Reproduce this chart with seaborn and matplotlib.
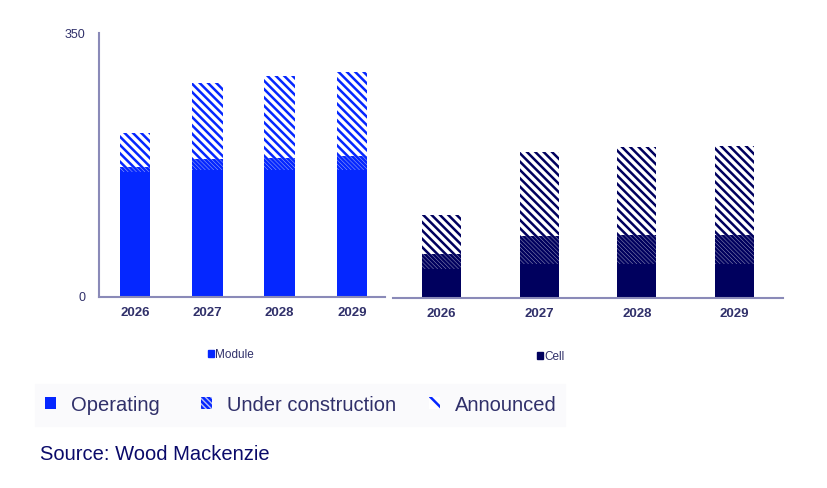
import pandas as pd
import matplotlib.pyplot as plt
import seaborn as sns
from matplotlib.patches import Patch, Rectangle

# valeurs (GW)
years = ["2026", "2027", "2028", "2029"]
module_operating = [166, 169, 169, 169]
module_construction = [6, 14, 16, 18]
module_announced = [45, 101, 108, 112]
cell_operating = [39, 45, 45, 45]
cell_construction = [19, 37, 38, 38]
cell_announced = [52, 111, 117, 119]
legend_labels = ["Operating", "Under construction", "Announced"]

blue = "#0527ff"
navy = "#00005e"
spine_col = "#8a8ab8"
text_col = "#30306a"

sns.set_style("white")
plt.rcParams["font.family"] = ["Liberation Sans", "DejaVu Sans"]
plt.rcParams["hatch.linewidth"] = 1.8

fig = plt.figure(figsize=(8.28, 4.88), dpi=100)
ax1 = fig.add_axes([0.1196, 0.3914, 0.3454, 0.5406])
ax2 = fig.add_axes([0.4746, 0.3894, 0.4711, 0.5406])


def stacked(ax, op, uc, an, col, width):
    df = pd.DataFrame({"year": years, "op": op, "uc": uc, "an": an})
    df["uc_top"] = df["op"] + df["uc"]
    df["total"] = df["uc_top"] + df["an"]
    # on dessine du haut vers le bas, chaque couche couvre la precedente
    sns.barplot(data=df, x="year", y="total", color=col, width=width, ax=ax)
    n = len(ax.patches)
    for p in ax.patches[:n]:
        p.set_facecolor("white")
        p.set_edgecolor(col)
        p.set_hatch("\\\\\\\\")
        p.set_linewidth(0)
    sns.barplot(data=df, x="year", y="uc_top", color=col, width=width, ax=ax)
    for p in ax.patches[n:]:
        p.set_facecolor("#b8bff5" if col == blue else "#a8a8c8")
        p.set_edgecolor(col)
        p.set_hatch("\\\\\\\\\\\\\\\\")
        p.set_linewidth(0)
    sns.barplot(data=df, x="year", y="op", color=col, width=width, ax=ax,
                saturation=1)
    for p in ax.patches:
        p.set_linewidth(0)


stacked(ax1, module_operating, module_construction, module_announced, blue, 0.42)
stacked(ax2, cell_operating, cell_construction, cell_announced, navy, 0.4)

for ax in (ax1, ax2):
    ax.set_ylim(0, 350)
    ax.set_xlabel("")
    ax.set_ylabel("")
    ax.tick_params(length=0, labelsize=9.5, labelcolor=text_col, pad=7)
    for lab in ax.get_xticklabels():
        lab.set_fontweight("bold")
    for s in ax.spines.values():
        s.set_color(spine_col)
        s.set_linewidth(1.5)
    ax.spines["top"].set_visible(False)
    ax.spines["right"].set_visible(False)

ax1.set_xlim(-0.5, 3.46)
ax1.set_yticks([0, 350])
ax1.set_yticklabels(["0", "350"])
ax1.tick_params(axis="y", pad=10, labelsize=9)
ax2.set_xlim(-0.5, 3.5)
ax2.set_yticks([])
ax2.spines["left"].set_visible(False)

# petites legendes sous chaque panneau
fig.legend(handles=[Patch(color=blue, label="Module")], loc="center left",
           bbox_to_anchor=(0.238, 0.273), frameon=False, fontsize=8.5,
           handlelength=0.5, handleheight=0.5, handletextpad=0.1,
           labelcolor=text_col)
fig.legend(handles=[Patch(color=navy, label="Cell")], loc="center left",
           bbox_to_anchor=(0.636, 0.269), frameon=False, fontsize=8.5,
           handlelength=0.5, handleheight=0.5, handletextpad=0.1,
           labelcolor=text_col)

# legende principale : fond clair puis trois entrees placees a la main
fig.patches.append(Rectangle((0.042, 0.128), 0.64, 0.085,
                             transform=fig.transFigure, color="#fafafc",
                             zorder=0))
handles = [
    Patch(facecolor=blue, edgecolor=blue, linewidth=0),
    Patch(facecolor="#b8bff5", edgecolor=blue, linewidth=0,
          hatch="\\\\\\\\\\\\"),
    Patch(facecolor="white", edgecolor=blue, linewidth=0, hatch="\\\\"),
]
x_pos = [0.054, 0.243, 0.518]
for h, lab, x in zip(handles, legend_labels, x_pos):
    fig.legend(handles=[h], labels=[lab], loc="center left",
               bbox_to_anchor=(x, 0.170), fontsize=14.5, frameon=False,
               handlelength=0.55, handleheight=0.55, handletextpad=0.75,
               labelcolor=text_col, borderpad=0, borderaxespad=0)

fig.text(0.048, 0.068, "Source: Wood Mackenzie", fontsize=14.5,
         color="#0a0a6a", va="center")

fig.savefig("out.png", dpi=100)
